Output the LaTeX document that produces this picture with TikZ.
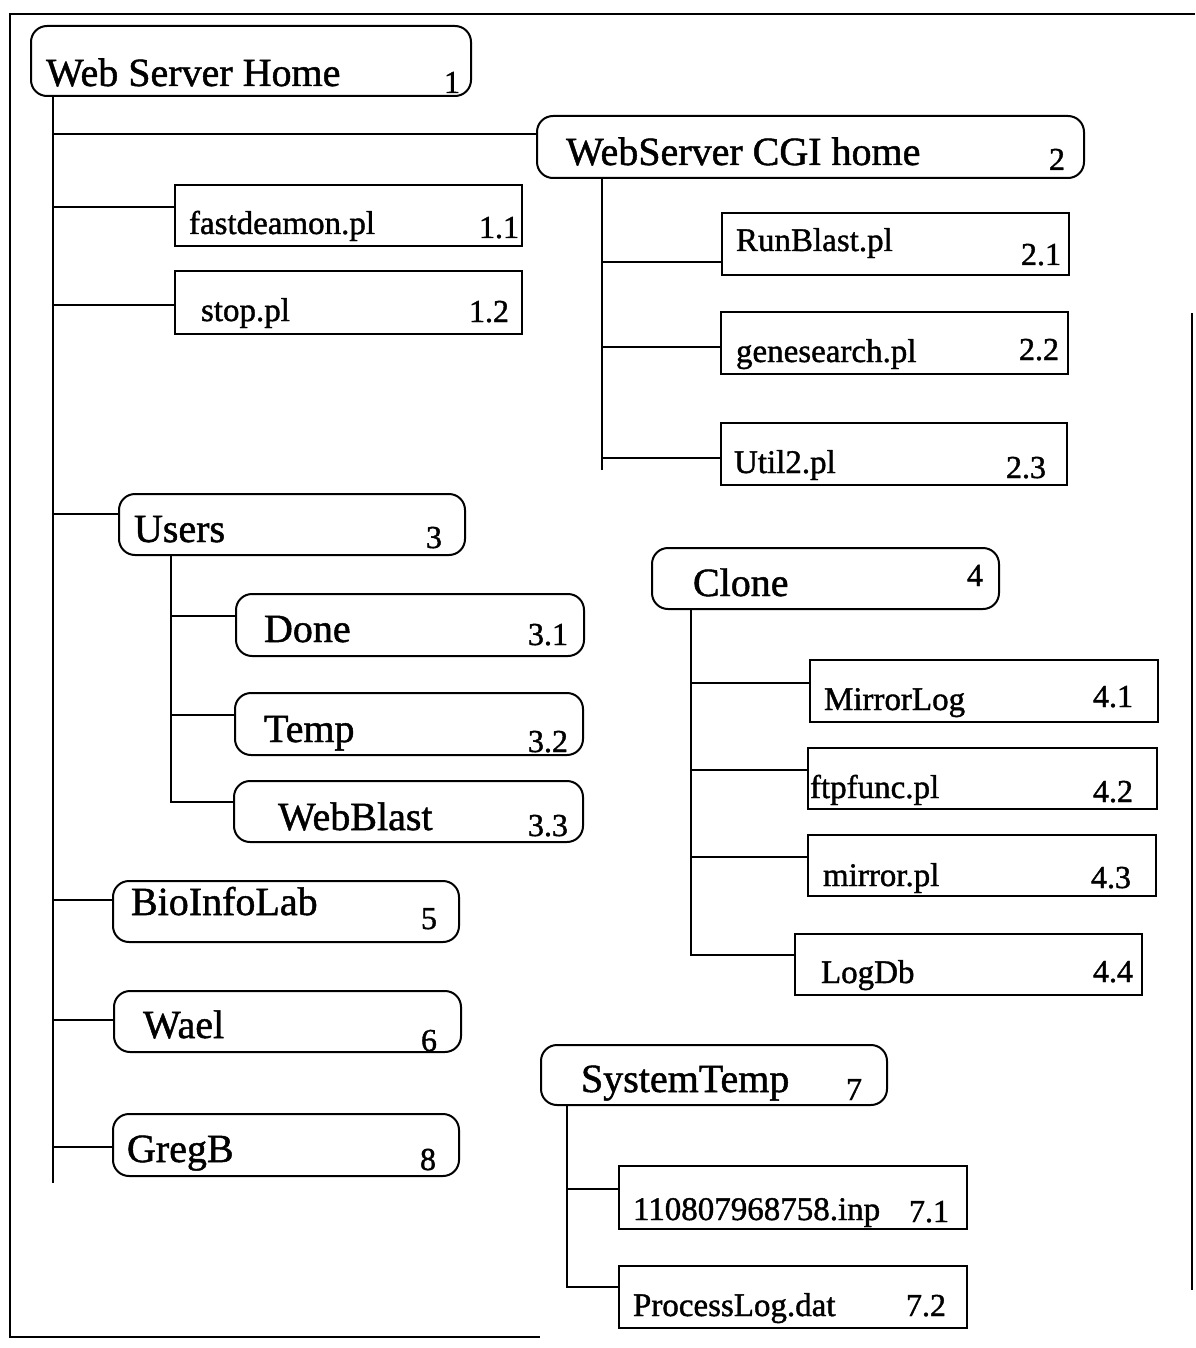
\documentclass[tikz,border=0pt]{standalone}
\usepackage{fontspec}
\setmainfont{Liberation Serif}[RawFeature={embolden=1.2}]
\newcommand\dbox[8]{%
  \node[#2] (#1) at (#3) {};
  \node[#4] (#1-l) at (#5) {#6};
  \node[numtxt] (#1-n) at (#7) {#8};
}
\begin{document}
\begin{tikzpicture}[x=1pt,y=-1pt,
  line width=2pt,
  dirbox/.style={draw, rounded corners=16pt, inner sep=0pt, anchor=north west},
  filebox/.style={draw, inner sep=0pt, anchor=north west},
  bigtxt/.style={anchor=base west, inner sep=0pt, font=\fontsize{40}{44}\selectfont},
  smalltxt/.style={anchor=base west, inner sep=0pt, font=\fontsize{33}{36}\selectfont},
  numtxt/.style={anchor=base west, inner sep=0pt, font=\fontsize{32}{35}\selectfont},
  conn/.style={line width=2pt},
  framel/.style={line width=2pt}]
\useasboundingbox (0,0) rectangle (1195,1348);

% frame
\draw[framel] (1195,14) -- (10,14) -- (10,1337) -- (540,1337);
\draw[framel] (1192,313) -- (1192,1290);

% boxes
\dbox{B1}{dirbox,minimum width=440pt,minimum height=70pt}{30,25}{bigtxt}{45,86}{Web Server Home}{443,93}{1}
\dbox{B2}{dirbox,minimum width=547pt,minimum height=62pt}{536,115}{bigtxt}{565,165}{WebServer CGI home}{1048,170}{2}
\dbox{b11}{filebox,minimum width=347pt,minimum height=61pt}{174,184}{smalltxt}{188,234}{fastdeamon.pl}{478,238}{1.1}
\dbox{b12}{filebox,minimum width=347pt,minimum height=63pt}{174,270}{smalltxt}{200,321}{stop.pl}{468,322}{1.2}
\dbox{b21}{filebox,minimum width=347pt,minimum height=62pt}{721,212}{smalltxt}{735,251}{RunBlast.pl}{1020,265}{2.1}
\dbox{b22}{filebox,minimum width=347pt,minimum height=62pt}{720,311}{smalltxt}{735,362}{genesearch.pl}{1018,360}{2.2}
\dbox{b23}{filebox,minimum width=346pt,minimum height=62pt}{720,422}{smalltxt}{733,473}{Util2.pl}{1005,478}{2.3}
\dbox{B3}{dirbox,minimum width=346pt,minimum height=61pt}{118,493}{bigtxt}{133,542}{Users}{425,548}{3}
\dbox{b31}{dirbox,minimum width=348pt,minimum height=62pt}{235,593}{bigtxt}{263,642}{Done}{527,645}{3.1}
\dbox{b32}{dirbox,minimum width=348pt,minimum height=62pt}{234,692}{bigtxt}{263,742}{Temp}{527,752}{3.2}
\dbox{b33}{dirbox,minimum width=349pt,minimum height=61pt}{233,780}{bigtxt}{277,830}{WebBlast}{527,836}{3.3}
\dbox{B4}{dirbox,minimum width=347pt,minimum height=61pt}{651,547}{bigtxt}{692,596}{Clone}{966,586}{4}
\dbox{b41}{filebox,minimum width=348pt,minimum height=62pt}{809,659}{smalltxt}{823,710}{MirrorLog}{1092,707}{4.1}
\dbox{b42}{filebox,minimum width=349pt,minimum height=61pt}{807,747}{smalltxt}{809,798}{ftpfunc.pl}{1092,802}{4.2}
\dbox{b43}{filebox,minimum width=348pt,minimum height=61pt}{807,834}{smalltxt}{822,886}{mirror.pl}{1090,888}{4.3}
\dbox{b44}{filebox,minimum width=347pt,minimum height=61pt}{794,933}{smalltxt}{820,983}{LogDb}{1092,982}{4.4}
\dbox{B5}{dirbox,minimum width=346pt,minimum height=61pt}{112,880}{bigtxt}{130,915}{BioInfoLab}{420,929}{5}
\dbox{B6}{dirbox,minimum width=347pt,minimum height=61pt}{113,990}{bigtxt}{142,1038}{Wael}{420,1051}{6}
\dbox{B7}{dirbox,minimum width=346pt,minimum height=60pt}{540,1044}{bigtxt}{580,1092}{SystemTemp}{845,1100}{7}
\dbox{B8}{dirbox,minimum width=346pt,minimum height=62pt}{112,1113}{bigtxt}{126,1162}{GregB}{419,1170}{8}
\dbox{b71}{filebox,minimum width=348pt,minimum height=63pt}{618,1165}{smalltxt}{632,1220}{110807968758.inp}{908,1222}{7.1}
\dbox{b72}{filebox,minimum width=348pt,minimum height=62pt}{618,1265}{smalltxt}{632,1316}{ProcessLog.dat}{905,1316}{7.2}

% junction coordinates
\coordinate (t0) at (53,1183);
\coordinate (j2) at (53,134);
\coordinate (j11) at (53,207);
\coordinate (j12) at (53,305);
\coordinate (j3) at (53,514);
\coordinate (j5) at (53,900);
\coordinate (j6) at (53,1020);
\coordinate (j8) at (53,1147);

\coordinate (c0) at (602,470);
\coordinate (c21) at (602,262);
\coordinate (c22) at (602,347);
\coordinate (c23) at (602,458);

\coordinate (u0) at (171,802);
\coordinate (u31) at (171,616);
\coordinate (u32) at (171,715);

\coordinate (k0) at (691,955);
\coordinate (k41) at (691,683);
\coordinate (k42) at (691,770);
\coordinate (k43) at (691,857);

\coordinate (s0) at (567,1287);
\coordinate (s71) at (567,1189);

% connectors: main trunk
\draw[conn] (B1.south -| t0) -- (t0);
\draw[conn] (j2) -- (j2 -| B2.west);
\draw[conn] (j11) -- (j11 -| b11.west);
\draw[conn] (j12) -- (j12 -| b12.west);
\draw[conn] (j3) -- (j3 -| B3.west);
\draw[conn] (j5) -- (j5 -| B5.west);
\draw[conn] (j6) -- (j6 -| B6.west);
\draw[conn] (j8) -- (j8 -| B8.west);

% CGI
\draw[conn] (B2.south -| c0) -- (c0);
\draw[conn] (c21) -- (c21 -| b21.west);
\draw[conn] (c22) -- (c22 -| b22.west);
\draw[conn] (c23) -- (c23 -| b23.west);

% Users
\draw[conn] (B3.south -| u0) -- (u0) -- (u0 -| b33.west);
\draw[conn] (u31) -- (u31 -| b31.west);
\draw[conn] (u32) -- (u32 -| b32.west);

% Clone
\draw[conn] (B4.south -| k0) -- (k0) -- (k0 -| b44.west);
\draw[conn] (k41) -- (k41 -| b41.west);
\draw[conn] (k42) -- (k42 -| b42.west);
\draw[conn] (k43) -- (k43 -| b43.west);

% SystemTemp
\draw[conn] (B7.south -| s0) -- (s0) -- (s0 -| b72.west);
\draw[conn] (s71) -- (s71 -| b71.west);
\end{tikzpicture}
\end{document}
